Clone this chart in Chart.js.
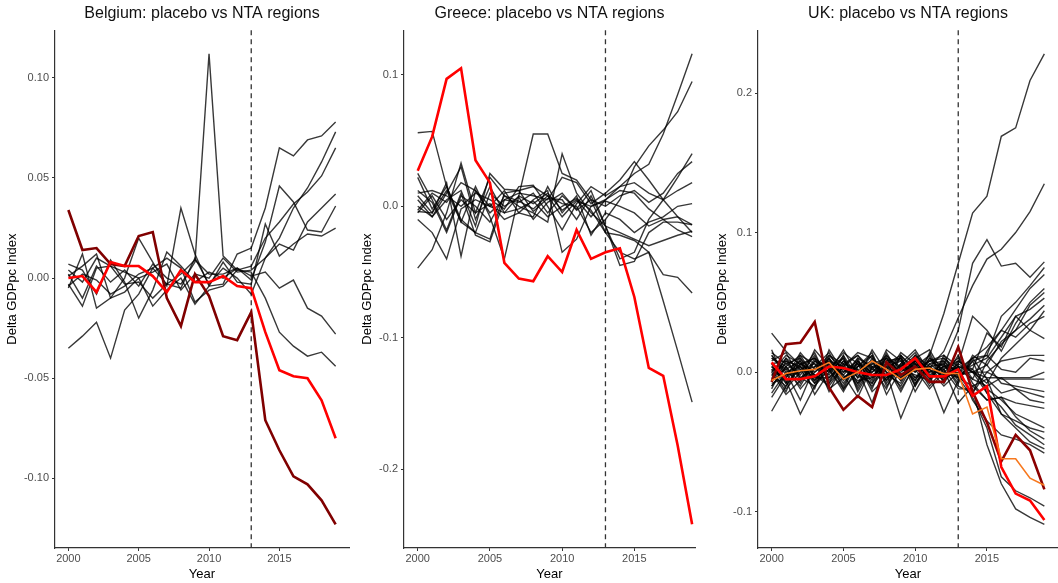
<!DOCTYPE html>
<html>
<head>
<meta charset="utf-8">
<script src="https://cdn.jsdelivr.net/npm/chart.js@4.4.1/dist/chart.umd.min.js"></script>
<style>
  body { margin: 0; background: #fff; }
  .panel { position: absolute; top: 0; height: 583px; }
</style>
</head>
<body>
<div class="panel" style="left:0px;width:352px"><canvas id="belgium" width="352" height="583"></canvas></div>
<div class="panel" style="left:352px;width:345px"><canvas id="greece" width="345" height="583"></canvas></div>
<div class="panel" style="left:705px;width:353px"><canvas id="uk" width="353" height="583"></canvas></div>
<script>
const years = [2000, 2001, 2002, 2003, 2004, 2005, 2006, 2007, 2008, 2009,
               2010, 2011, 2012, 2013, 2014, 2015, 2016, 2017, 2018, 2019];
const xTicks = [2000, 2005, 2010, 2015];
const treatYear = 2013;

// Belgium
const belgiumTicks = [-0.10, -0.05, 0.00, 0.05, 0.10];
const belgiumRed = [0.000, 0.001, -0.007, 0.008, 0.006, 0.006, 0.001, -0.007, 0.004, -0.002,
                    -0.002, 0.001, -0.004, -0.005, -0.027, -0.046, -0.049, -0.050, -0.061, -0.080];
const belgiumDarkRed = [0.034, 0.014, 0.015, 0.007, 0.006, 0.021, 0.023, -0.010, -0.024, 0.002,
                        -0.009, -0.029, -0.031, -0.017, -0.071, -0.086, -0.099, -0.103, -0.111, -0.123];
const belgiumPlacebo = [
  [0.002, -0.010, 0.006, -0.002, 0.004, -0.004, 0.007, 0.000, -0.003, 0.008, 0.112, 0.011, 0.004, 0.006, 0.020, 0.028, 0.037, 0.043, 0.051, 0.065],
  [-0.035, -0.029, -0.022, -0.040, -0.016, -0.008, 0.005, 0.010, 0.005, -0.012, -0.006, -0.004, 0.004, 0.003, -0.010, -0.027, -0.034, -0.039, -0.037, -0.044],
  [-0.005, 0.012, -0.015, -0.010, 0.000, 0.020, 0.008, -0.004, 0.035, 0.012, -0.004, -0.003, 0.012, 0.015, 0.035, 0.065, 0.061, 0.069, 0.071, 0.078],
  [0.007, 0.004, -0.008, 0.009, -0.002, -0.020, -0.006, 0.013, 0.006, -0.002, 0.003, 0.000, 0.005, -0.001, 0.018, 0.046, 0.038, 0.024, 0.023, 0.036],
  [-0.003, -0.014, 0.005, 0.006, -0.003, -0.002, -0.010, -0.003, -0.005, 0.010, -0.003, 0.005, 0.000, -0.008, 0.010, 0.020, 0.035, 0.045, 0.058, 0.073],
  [0.004, -0.002, 0.010, 0.006, 0.003, 0.000, -0.014, -0.006, 0.000, -0.013, -0.004, 0.008, -0.002, -0.003, 0.027, 0.011, 0.017, 0.022, 0.021, 0.025],
  [-0.004, 0.002, -0.001, -0.008, -0.004, 0.002, 0.005, -0.003, 0.002, 0.009, 0.002, 0.002, 0.005, 0.001, 0.003, -0.005, -0.001, -0.015, -0.019, -0.028],
  [0.001, 0.006, 0.012, -0.010, -0.007, 0.000, 0.003, 0.007, -0.006, 0.002, 0.000, 0.010, 0.003, 0.004, 0.010, 0.017, 0.014, 0.028, 0.035, 0.042]
];

// Greece
const greeceTicks = [-0.2, -0.1, 0.0, 0.1];
const greeceRed = [0.027, 0.053, 0.097, 0.105, 0.035, 0.018, -0.043, -0.055, -0.057, -0.038,
                   -0.050, -0.018, -0.040, -0.035, -0.032, -0.069, -0.123, -0.129, -0.182, -0.242];
const greecePlacebo = [
  [0.005, -0.008, 0.010, 0.030, -0.010, 0.015, -0.005, 0.008, 0.002, 0.010, -0.003, 0.005, -0.008, 0.005, 0.015, 0.025, 0.032, 0.055, 0.085, 0.116],
  [0.056, 0.057, 0.015, -0.010, -0.020, -0.025, 0.010, 0.012, 0.015, 0.008, 0.002, 0.000, -0.020, -0.010, 0.005, 0.030, 0.046, 0.058, 0.072, 0.095],
  [-0.047, -0.033, -0.005, 0.033, -0.005, 0.022, 0.008, 0.000, -0.005, -0.012, 0.040, 0.010, -0.005, -0.015, -0.040, -0.035, -0.010, 0.005, 0.022, 0.040],
  [0.025, 0.005, -0.018, 0.010, -0.022, -0.027, 0.005, 0.010, 0.008, 0.005, 0.022, 0.018, 0.002, 0.010, 0.020, 0.034, 0.020, 0.005, -0.008, -0.014],
  [-0.004, -0.005, 0.012, -0.012, 0.015, -0.008, -0.040, 0.008, 0.055, 0.055, 0.025, 0.020, 0.005, 0.000, 0.008, 0.012, 0.003, 0.010, 0.025, 0.034],
  [0.010, 0.012, 0.008, 0.000, 0.010, 0.005, -0.002, 0.015, 0.016, 0.000, -0.018, 0.002, 0.015, 0.008, 0.015, 0.018, 0.010, 0.005, 0.012, 0.018],
  [-0.010, -0.020, -0.040, -0.002, 0.005, 0.000, 0.012, -0.005, -0.008, 0.015, -0.005, 0.008, -0.022, -0.005, -0.010, -0.020, -0.012, -0.008, 0.000, 0.002],
  [0.008, -0.005, 0.018, -0.038, 0.012, -0.005, 0.005, 0.003, 0.010, -0.005, 0.008, -0.002, 0.012, -0.015, -0.020, -0.025, -0.030, -0.026, -0.022, -0.019],
  [-0.005, 0.008, -0.010, 0.005, -0.005, 0.002, -0.010, -0.005, 0.005, 0.012, -0.035, -0.025, 0.000, 0.005, 0.012, 0.010, -0.002, -0.010, -0.018, -0.023],
  [0.022, -0.002, 0.015, -0.012, -0.020, 0.010, 0.000, 0.007, -0.010, 0.003, 0.010, -0.003, 0.005, -0.020, -0.022, -0.026, -0.035, -0.052, -0.054, -0.066],
  [-0.003, 0.010, 0.003, 0.018, 0.012, 0.000, -0.005, -0.002, 0.004, -0.008, 0.000, 0.006, -0.003, -0.020, -0.035, -0.040, -0.035, -0.072, -0.110, -0.149],
  [0.000, -0.008, 0.005, 0.012, -0.015, 0.025, 0.013, 0.012, -0.004, 0.006, 0.005, -0.010, 0.008, -0.015, -0.045, -0.042, -0.020, -0.012, -0.012, -0.014],
  [0.012, 0.003, -0.020, 0.008, 0.000, -0.012, 0.008, 0.004, -0.002, 0.008, -0.008, 0.004, 0.000, 0.004, 0.000, -0.005, -0.015, -0.010, -0.008, -0.020]
];

// UK
const ukTicks = [-0.1, 0.0, 0.1, 0.2];
const ukRed = [0.007, -0.005, -0.005, -0.003, 0.004, 0.003, 0.000, -0.002, -0.002, 0.002,
               0.010, -0.003, -0.003, 0.002, -0.017, -0.010, -0.068, -0.087, -0.092, -0.106];
const ukDarkRed = [-0.007, 0.020, 0.021, 0.036, -0.011, -0.027, -0.017, -0.025, 0.007, -0.002,
                   0.004, -0.007, -0.007, 0.018, -0.014, -0.036, -0.064, -0.045, -0.056, -0.084];
const ukOrange = [-0.006, -0.001, 0.001, 0.002, 0.007, -0.005, 0.000, 0.008, 0.002, -0.005,
                  0.002, 0.003, -0.001, -0.001, -0.030, -0.025, -0.062, -0.062, -0.076, -0.081];
const ukPlacebo = [
  [0.002, -0.004, 0.006, 0.000, 0.010, -0.005, 0.004, 0.012, -0.006, 0.005, 0.000, 0.012, 0.042, 0.078, 0.114, 0.126, 0.169, 0.175, 0.209, 0.228],
  [-0.010, 0.004, -0.008, 0.010, 0.002, -0.012, 0.008, -0.003, 0.006, 0.010, -0.004, 0.003, 0.015, 0.039, 0.062, 0.081, 0.088, 0.100, 0.115, 0.135],
  [0.012, -0.002, 0.008, -0.006, 0.004, 0.010, -0.008, 0.002, 0.012, -0.002, 0.006, -0.005, 0.005, 0.030, 0.078, 0.095, 0.076, 0.078, 0.068, 0.079],
  [0.028, 0.015, 0.005, 0.010, -0.004, 0.006, 0.002, -0.010, 0.004, 0.008, -0.006, 0.010, 0.000, -0.004, 0.008, 0.012, 0.040, 0.050, 0.062, 0.075],
  [-0.005, 0.010, 0.002, -0.012, 0.016, 0.000, 0.008, -0.004, 0.010, 0.004, 0.014, -0.002, 0.004, 0.002, 0.010, 0.018, 0.030, 0.045, 0.060, 0.070],
  [0.004, -0.008, 0.012, 0.006, -0.002, 0.012, -0.004, 0.016, 0.000, -0.010, 0.008, 0.002, -0.006, 0.006, 0.040, 0.030, 0.015, 0.035, 0.050, 0.060],
  [-0.015, 0.000, -0.020, 0.004, 0.008, -0.006, 0.010, 0.004, -0.012, 0.012, 0.002, 0.008, 0.010, -0.002, -0.015, 0.008, 0.020, 0.030, 0.048, 0.057],
  [0.008, 0.014, -0.004, 0.002, 0.012, 0.006, -0.010, 0.008, 0.004, -0.004, 0.010, 0.016, -0.002, 0.004, 0.002, 0.028, 0.018, 0.040, 0.045, 0.053],
  [-0.002, 0.006, 0.010, -0.008, 0.002, 0.014, 0.006, -0.006, 0.016, 0.008, -0.008, 0.004, 0.006, -0.008, 0.012, 0.005, 0.022, 0.030, 0.038, 0.048],
  [0.006, -0.012, 0.000, 0.014, -0.008, 0.004, 0.012, 0.002, -0.002, 0.014, 0.006, -0.010, 0.002, 0.010, -0.005, 0.015, 0.030, 0.025, 0.035, 0.040],
  [-0.028, -0.010, 0.004, -0.004, 0.010, -0.012, 0.000, 0.006, 0.010, -0.006, 0.012, 0.004, -0.004, 0.000, 0.005, 0.010, 0.025, 0.040, 0.030, 0.024],
  [0.010, 0.002, -0.010, 0.008, 0.000, 0.016, -0.002, -0.008, 0.006, 0.012, 0.000, 0.008, 0.012, 0.004, 0.000, 0.000, 0.008, 0.010, 0.012, 0.012],
  [0.000, 0.012, 0.006, -0.002, -0.010, 0.004, 0.014, 0.010, -0.004, 0.000, 0.008, -0.004, 0.008, -0.006, 0.010, 0.012, 0.002, 0.000, 0.010, 0.008],
  [-0.008, -0.004, 0.014, 0.002, 0.006, -0.008, 0.006, 0.000, 0.008, -0.012, 0.004, 0.012, -0.008, 0.008, 0.000, -0.004, -0.004, -0.004, -0.004, 0.000],
  [0.014, 0.006, -0.002, 0.012, -0.006, 0.008, 0.000, 0.012, -0.008, 0.006, 0.016, 0.000, 0.006, -0.010, -0.015, 0.000, -0.005, -0.005, -0.005, -0.005],
  [-0.012, 0.008, 0.004, -0.006, 0.012, 0.002, -0.006, -0.004, 0.002, 0.010, -0.010, 0.006, -0.002, 0.006, 0.000, 0.005, -0.008, -0.010, -0.012, -0.014],
  [0.004, -0.006, -0.030, -0.010, 0.006, -0.002, 0.010, -0.012, 0.012, 0.002, -0.002, -0.006, 0.010, 0.002, -0.005, -0.010, -0.004, -0.012, -0.015, -0.018],
  [-0.004, 0.002, 0.008, -0.016, 0.000, 0.010, -0.012, 0.006, -0.002, -0.008, 0.010, 0.002, -0.010, 0.000, 0.010, -0.005, -0.015, -0.012, -0.020, -0.022],
  [0.016, -0.008, 0.002, 0.006, -0.012, -0.004, 0.004, 0.014, -0.010, 0.004, -0.006, 0.010, 0.004, -0.004, -0.010, -0.020, -0.018, -0.022, -0.024, -0.026],
  [-0.006, 0.010, -0.006, 0.016, 0.004, -0.010, 0.008, -0.008, 0.014, -0.004, 0.002, -0.012, 0.000, 0.008, 0.002, -0.012, -0.020, -0.030, -0.035, -0.040],
  [0.002, -0.014, 0.010, -0.002, -0.008, 0.012, -0.014, 0.004, 0.000, -0.033, -0.008, 0.006, 0.008, -0.002, 0.000, -0.015, -0.030, -0.035, -0.040, -0.043],
  [-0.018, -0.002, 0.000, 0.004, 0.014, -0.004, 0.002, -0.022, 0.008, 0.010, -0.014, 0.004, -0.004, 0.012, -0.008, -0.020, -0.018, -0.032, -0.042, -0.048],
  [0.010, 0.004, -0.012, 0.000, 0.008, 0.004, -0.008, 0.010, -0.016, 0.002, 0.012, -0.002, -0.029, -0.006, 0.008, -0.015, -0.025, -0.038, -0.045, -0.052],
  [-0.002, -0.010, 0.006, 0.010, -0.014, 0.006, 0.012, -0.002, 0.004, -0.014, 0.006, 0.000, 0.002, -0.022, -0.010, -0.005, -0.030, -0.040, -0.050, -0.055],
  [0.006, 0.008, -0.004, -0.010, 0.002, -0.014, 0.004, 0.008, -0.006, 0.012, -0.010, 0.014, -0.006, 0.004, -0.020, -0.035, -0.045, -0.048, -0.052, -0.058],
  [-0.010, 0.004, 0.012, -0.004, -0.004, 0.008, -0.004, 0.000, 0.010, -0.002, 0.004, -0.008, 0.012, -0.004, -0.018, -0.040, -0.075, -0.085, -0.090, -0.096],
  [0.000, -0.016, -0.006, 0.008, 0.004, 0.000, 0.006, -0.014, -0.004, 0.006, -0.004, 0.008, 0.002, -0.012, -0.012, -0.052, -0.080, -0.098, -0.104, -0.109],
  [0.012, 0.000, 0.004, -0.008, 0.010, -0.002, -0.018, 0.004, 0.006, -0.006, 0.008, -0.004, 0.004, 0.008, 0.000, -0.008, 0.010, 0.020, 0.030, 0.044]
];

const axisColor = '#333333';
const tickColor = '#4d4d4d';
const fontFamily = "'Liberation Sans', Arial, sans-serif";

function toPoints(values) {
  return years.map((yr, i) => ({ x: yr, y: values[i] }));
}

function placeboSet(values) {
  return {
    data: toPoints(values),
    borderColor: 'rgba(0,0,0,0.78)',
    borderWidth: 1.4,
    pointRadius: 0,
    tension: 0,
    order: 2
  };
}

function treatedSet(values, color, width) {
  return {
    data: toPoints(values),
    borderColor: color,
    borderWidth: width,
    pointRadius: 0,
    tension: 0,
    order: 1
  };
}

// dashed line at the treatment year
const treatLine = {
  id: 'treatLine',
  beforeDatasetsDraw(chart) {
    const x = chart.scales.x.getPixelForValue(treatYear);
    const area = chart.chartArea;
    const ctx = chart.ctx;
    ctx.save();
    ctx.strokeStyle = axisColor;
    ctx.lineWidth = 1.3;
    ctx.setLineDash([5, 4]);
    ctx.beginPath();
    ctx.moveTo(x, area.top);
    ctx.lineTo(x, area.bottom);
    ctx.stroke();
    ctx.restore();
  }
};

function makeChart(id, p) {
  const ctx = document.getElementById(id).getContext('2d');
  return new Chart(ctx, {
    type: 'line',
    data: { datasets: p.datasets },
    plugins: [treatLine],
    options: {
      responsive: false,
      animation: false,
      layout: { padding: { left: 0, right: p.padRight, top: 0, bottom: 0 } },
      plugins: {
        legend: { display: false },
        tooltip: { enabled: false },
        title: {
          display: true,
          text: p.title,
          fullSize: false,
          color: '#111',
          font: { family: fontFamily, size: 16, weight: 'normal' },
          padding: { top: 4, bottom: 7 }
        }
      },
      scales: {
        x: {
          type: 'linear',
          min: 1999.05,
          max: p.xMax,
          afterBuildTicks(scale) { scale.ticks = xTicks.map(v => ({ value: v })); },
          afterFit(scale) { scale.height = 35; },
          ticks: {
            color: tickColor,
            font: { family: fontFamily, size: 11 },
            padding: 1,
            maxRotation: 0,
            callback: v => String(v)
          },
          grid: { drawOnChartArea: false, drawTicks: true, tickLength: 3, color: axisColor },
          border: { display: true, color: axisColor, width: 1.2 },
          title: {
            display: true,
            text: 'Year',
            color: '#000',
            font: { family: fontFamily, size: 13 },
            padding: { top: 0, bottom: 1 }
          }
        },
        y: {
          type: 'linear',
          min: p.yMin,
          max: p.yMax,
          afterBuildTicks(scale) { scale.ticks = p.yTicks.map(v => ({ value: v })); },
          afterFit(scale) { scale.width = p.yWidth; },
          ticks: {
            color: tickColor,
            font: { family: fontFamily, size: 11 },
            padding: 3,
            callback: v => v.toFixed(p.digits)
          },
          grid: { drawOnChartArea: false, drawTicks: true, tickLength: 3, color: axisColor },
          border: { display: true, color: axisColor, width: 1.2 },
          title: {
            display: true,
            text: 'Delta GDPpc Index',
            color: '#000',
            font: { family: fontFamily, size: 13 },
            padding: { top: p.titlePad, bottom: 0 }
          }
        }
      }
    }
  });
}

makeChart('belgium', {
  title: 'Belgium: placebo vs NTA regions',
  datasets: [
    treatedSet(belgiumRed, '#ff0000', 2.6),
    treatedSet(belgiumDarkRed, '#800000', 2.6)
  ].concat(belgiumPlacebo.map(placeboSet)),
  yMin: -0.1348, yMax: 0.1238, yTicks: belgiumTicks, digits: 2,
  yWidth: 55, titlePad: 5, xMax: 2019.95, padRight: 3
});

makeChart('greece', {
  title: 'Greece: placebo vs NTA regions',
  datasets: [treatedSet(greeceRed, '#ff0000', 2.6)].concat(greecePlacebo.map(placeboSet)),
  yMin: -0.260, yMax: 0.134, yTicks: greeceTicks, digits: 1,
  yWidth: 52, titlePad: 8, xMax: 2019.2, padRight: 2
});

makeChart('uk', {
  title: 'UK: placebo vs NTA regions',
  datasets: [
    treatedSet(ukOrange, '#f7781e', 1.6),
    treatedSet(ukRed, '#ff0000', 2.6),
    treatedSet(ukDarkRed, '#8b0000', 2.6)
  ].concat(ukPlacebo.map(placeboSet)),
  yMin: -0.126, yMax: 0.245, yTicks: ukTicks, digits: 1,
  yWidth: 53, titlePad: 10, xMax: 2019.95, padRight: 0
});
</script>
</body>
</html>
